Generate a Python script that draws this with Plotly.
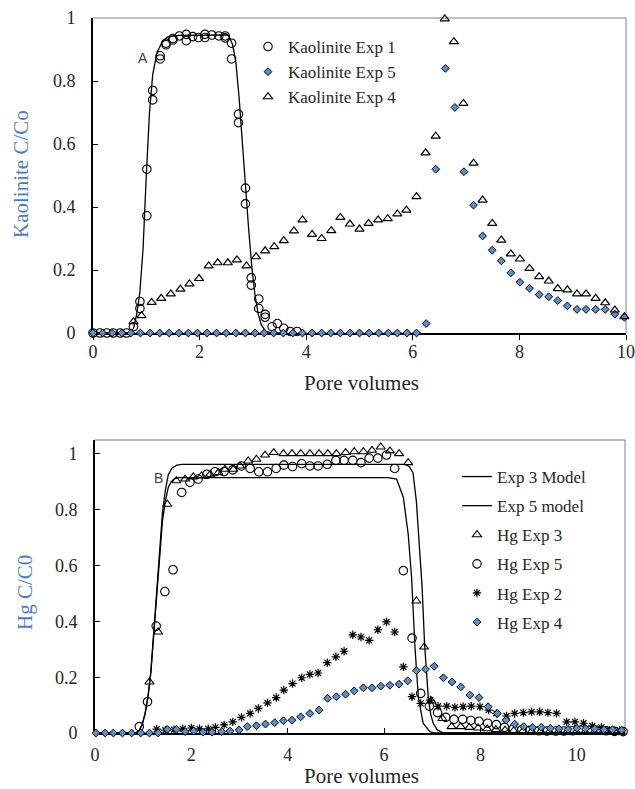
import plotly.graph_objects as go

W, H = 635, 789
SERIF = "Liberation Serif"
SANS = "Liberation Sans"
BLUE = "#5B8FCB"
TITLE_BLUE = "#4A7EBB"
TXT = "#262626"

# ---------------- Top chart: Kaolinite ----------------
kao_model_x = [0, 0.70, 0.76, 0.82, 0.88, 0.94, 1.00, 1.06, 1.12, 1.20, 1.30, 1.40, 1.60,
               2.00, 2.50, 2.55, 2.62, 2.68, 2.74, 2.80, 2.86, 2.92, 2.98, 3.04, 3.10,
               3.16, 3.24, 3.35, 3.60]
kao_model_y = [0, 0, 0.015, 0.06, 0.13, 0.27, 0.50, 0.70, 0.82, 0.89, 0.925, 0.94, 0.945,
               0.946, 0.946, 0.943, 0.915, 0.86, 0.75, 0.61, 0.46, 0.33, 0.21, 0.12, 0.06,
               0.025, 0.006, 0, 0]

kao1_x = [0.00, 0.13, 0.26, 0.38, 0.51, 0.63, 0.76, 0.88, 0.88, 1.01, 1.01, 1.12, 1.12,
          1.26, 1.26, 1.37, 1.37, 1.50, 1.50, 1.62, 1.75, 1.75, 1.87, 1.98, 2.10, 2.10,
          2.23, 2.36, 2.48, 2.48, 2.60, 2.60, 2.73, 2.73, 2.86, 2.86, 2.97, 2.97, 3.11,
          3.11, 3.23, 3.23, 3.36, 3.46, 3.58, 3.70, 3.83]
kao1_y = [0, 0, 0, 0, 0, 0, 0.02, 0.10, 0.078, 0.52, 0.372, 0.77, 0.74,
          0.88, 0.87, 0.92, 0.915, 0.935, 0.93, 0.943, 0.948, 0.928, 0.941, 0.938, 0.948, 0.938,
          0.946, 0.943, 0.943, 0.937, 0.92, 0.87, 0.695, 0.668, 0.46, 0.41, 0.175, 0.152, 0.108,
          0.078, 0.059, 0.05, 0.02, 0.03, 0.015, 0.005, 0.005]

kao5_x = [0.00, 0.18, 0.36, 0.54, 0.71, 0.89, 1.07, 1.25, 1.43, 1.61, 1.79, 1.96, 2.14,
          2.32, 2.50, 2.68, 2.86, 3.04, 3.21, 3.39, 3.57, 3.75, 3.93, 4.11, 4.29, 4.46,
          4.64, 4.82, 5.00, 5.18, 5.36, 5.54, 5.71, 5.89, 6.07, 6.25, 6.43, 6.61, 6.79,
          6.96, 7.14, 7.31, 7.49, 7.66, 7.84, 8.01, 8.19, 8.37, 8.55, 8.72, 8.90, 9.08,
          9.25, 9.43, 9.61, 9.79, 9.97]
kao5_y = [0, 0, 0, 0, 0, 0, 0, 0, 0, 0, 0, 0, 0,
          0, 0, 0, 0, 0, 0, 0, 0, 0, 0, 0, 0, 0,
          0, 0, 0, 0, 0, 0, 0, 0, 0, 0.03, 0.52, 0.84, 0.716,
          0.512, 0.406, 0.308, 0.263, 0.229, 0.191, 0.161, 0.142, 0.122, 0.115, 0.103, 0.086, 0.075,
          0.075, 0.075, 0.075, 0.06, 0.05]

kao4_x = [0.76, 0.91, 1.10, 1.28, 1.46, 1.64, 1.81, 1.99, 2.17, 2.34, 2.53, 2.70, 2.88,
          3.06, 3.23, 3.40, 3.58, 3.77, 3.93, 4.11, 4.29, 4.47, 4.64, 4.82, 5.00, 5.17,
          5.35, 5.53, 5.71, 5.88, 6.07, 6.24, 6.43, 6.60, 6.77, 6.95, 7.14, 7.31, 7.49,
          7.66, 7.84, 8.01, 8.19, 8.37, 8.55, 8.72, 8.90, 9.08, 9.25, 9.43, 9.61, 9.79, 9.97]
kao4_y = [0.036, 0.055, 0.097, 0.11, 0.124, 0.139, 0.156, 0.173, 0.213, 0.223, 0.223, 0.232, 0.213,
          0.242, 0.261, 0.274, 0.293, 0.324, 0.359, 0.313, 0.30, 0.325, 0.367, 0.346, 0.33, 0.348,
          0.359, 0.363, 0.378, 0.39, 0.433, 0.572, 0.625, 0.997, 0.925, 0.729, 0.539, 0.422, 0.348,
          0.295, 0.251, 0.235, 0.205, 0.179, 0.165, 0.141, 0.137, 0.124, 0.124, 0.11, 0.096, 0.073, 0.052]

# ---------------- Bottom chart: Hg ----------------
m3_x = [0, 0.85, 0.92, 0.98, 1.04, 1.10, 1.16, 1.22, 1.28, 1.34, 1.40, 1.46, 1.52, 1.60,
        1.70, 1.80, 6.43, 6.52, 6.60, 6.67, 6.74, 6.79, 6.84, 6.88, 6.92, 6.97, 7.02,
        7.10, 7.23, 11.0]
m3_y = [0, 0, 0.01, 0.03, 0.07, 0.13, 0.22, 0.36, 0.51, 0.66, 0.79, 0.87, 0.925, 0.95,
        0.96, 0.963, 0.963, 0.955, 0.933, 0.83, 0.65, 0.52, 0.32, 0.20, 0.12, 0.065, 0.035,
        0.012, 0, 0]

m5_x = [0, 0.85, 0.92, 0.98, 1.04, 1.10, 1.16, 1.22, 1.28, 1.34, 1.40, 1.46, 1.52, 1.58,
        1.65, 1.75, 6.08, 6.26, 6.40, 6.50, 6.57, 6.64, 6.71, 6.81, 6.95, 7.05, 11.0]
m5_y = [0, 0, 0.01, 0.03, 0.07, 0.13, 0.22, 0.36, 0.51, 0.65, 0.76, 0.83, 0.88, 0.90,
        0.912, 0.915, 0.915, 0.91, 0.844, 0.713, 0.56, 0.31, 0.13, 0.035, 0.005, 0, 0]

hg3_x = [1.13, 1.31, 1.50, 1.69, 1.87, 2.04, 2.21, 2.39, 2.56, 2.70, 2.87, 3.01, 3.18,
         3.35, 3.53, 3.71, 3.91, 4.09, 4.27, 4.46, 4.65, 4.83, 5.01, 5.20, 5.38, 5.57,
         5.75, 5.93, 6.12, 6.31, 6.50, 6.67, 6.83, 6.98, 7.21, 7.40, 7.59, 7.77, 7.95,
         8.14, 8.32, 8.51, 8.69, 8.88, 9.06, 9.25, 9.43, 9.62, 9.80, 9.99, 10.17, 10.36,
         10.54, 10.73, 10.91]
hg3_y = [0.183, 0.362, 0.82, 0.904, 0.91, 0.918, 0.921, 0.927, 0.933, 0.945, 0.945, 0.957, 0.975,
         0.981, 0.996, 1.005, 1.001, 1.001, 1.001, 1.001, 1.001, 1.001, 1.001, 1.005, 1.008, 1.008,
         1.013, 1.025, 1.011, 1.001, 0.969, 0.473, 0.308, 0.115, 0.052, 0.023, 0.023, 0.02, 0.018,
         0.015, 0.012, 0.01, 0.008, 0.007, 0.006, 0.006, 0.005, 0.005, 0.005, 0.005, 0.004, 0.004,
         0.004, 0.004, 0.004]

hg5_x = [0.92, 1.09, 1.27, 1.45, 1.62, 1.80, 1.97, 2.14, 2.32, 2.49, 2.68, 2.86, 3.04,
         3.22, 3.40, 3.58, 3.76, 3.92, 4.10, 4.29, 4.46, 4.63, 4.82, 5.00, 5.17, 5.35,
         5.52, 5.69, 5.87, 6.05, 6.22, 6.40, 6.58, 6.76, 6.94, 7.11, 7.28, 7.45, 7.63,
         7.80, 7.97, 8.15, 8.33, 8.50, 8.68, 8.86, 9.03, 9.21, 9.38, 9.56, 9.73, 9.91,
         10.08, 10.26, 10.43, 10.61, 10.78, 10.96]
hg5_y = [0.023, 0.112, 0.383, 0.507, 0.585, 0.862, 0.898, 0.91, 0.927, 0.936, 0.937, 0.943, 0.957,
         0.948, 0.936, 0.936, 0.948, 0.96, 0.955, 0.965, 0.957, 0.957, 0.963, 0.977, 0.977, 0.977,
         0.969, 0.985, 0.985, 0.996, 0.948, 0.582, 0.34, 0.142, 0.096, 0.073, 0.056, 0.049, 0.049,
         0.045, 0.042, 0.035, 0.03, 0.02, 0.015, 0.012, 0.01, 0.008, 0.007, 0.007, 0.007, 0.008,
         0.01, 0.01, 0.01, 0.008, 0.006, 0.005]

hg2_x = [1.28, 1.46, 1.64, 1.82, 2.00, 2.17, 2.35, 2.50, 2.68, 2.86, 3.04, 3.22, 3.39,
         3.58, 3.76, 3.92, 4.10, 4.29, 4.46, 4.63, 4.82, 5.00, 5.17, 5.35, 5.52, 5.69,
         5.87, 6.05, 6.22, 6.40, 6.58, 6.76, 6.96, 7.12, 7.30, 7.47, 7.64, 7.81, 7.99,
         8.17, 8.33, 8.54, 8.71, 8.89, 9.06, 9.23, 9.40, 9.58, 9.79, 9.96, 10.14, 10.32,
         10.51, 10.68, 10.89]
hg2_y = [0.014, 0.01, 0.012, 0.015, 0.018, 0.015, 0.015, 0.02, 0.029, 0.04, 0.056, 0.07, 0.088,
         0.108, 0.127, 0.154, 0.177, 0.198, 0.21, 0.215, 0.252, 0.273, 0.293, 0.352, 0.344, 0.332,
         0.37, 0.398, 0.362, 0.237, 0.13, 0.106, 0.118, 0.096, 0.096, 0.092, 0.094, 0.096, 0.094,
         0.082, 0.07, 0.061, 0.07, 0.073, 0.076, 0.076, 0.073, 0.07, 0.04, 0.04, 0.035, 0.025,
         0.02, 0.01, 0.01]

hg4_x = [0.02, 0.21, 0.38, 0.57, 0.76, 0.95, 1.13, 1.31, 1.50, 1.69, 1.87, 2.05, 2.24,
         2.43, 2.63, 2.80, 2.99, 3.16, 3.35, 3.54, 3.73, 3.91, 4.09, 4.27, 4.46, 4.65,
         4.83, 5.01, 5.20, 5.38, 5.57, 5.75, 5.93, 6.12, 6.31, 6.49, 6.67, 6.86, 7.04,
         7.23, 7.41, 7.59, 7.78, 7.97, 8.16, 8.35, 8.53, 8.71, 8.90, 9.08, 9.26, 9.45,
         9.63, 9.82, 10.00, 10.18, 10.37, 10.56, 10.74, 10.93]
hg4_y = [0, 0, 0, 0, 0, 0, 0, 0, 0.013, 0.013, 0.005, 0.007, 0.003,
         0.003, 0.005, 0.007, 0.011, 0.023, 0.026, 0.032, 0.037, 0.044, 0.046, 0.058, 0.07, 0.082,
         0.124, 0.13, 0.139, 0.151, 0.162, 0.162, 0.168, 0.171, 0.175, 0.187, 0.223, 0.229, 0.239,
         0.198, 0.183, 0.165, 0.136, 0.127, 0.094, 0.07, 0.046, 0.032, 0.023, 0.02, 0.02, 0.017,
         0.015, 0.013, 0.017, 0.015, 0.015, 0.012, 0.012, 0.01]

x_ticks_top = [0, 2, 4, 6, 8, 10]
x_ticks_bot = [0, 2, 4, 6, 8, 10]
y_ticks = [0, 0.2, 0.4, 0.6, 0.8, 1]
y_tick_text = ["0", "0.2", "0.4", "0.6", "0.8", "1"]

fig = go.Figure()


def mk(symbol, size, color="black", line_color="black", width=1):
    return dict(symbol=symbol, size=size, color=color,
                line=dict(width=width, color=line_color))


# top traces
fig.add_trace(go.Scatter(x=kao_model_x, y=kao_model_y, mode="lines",
                         line=dict(color="black", width=1.3), showlegend=False,
                         xaxis="x", yaxis="y", cliponaxis=False))
fig.add_trace(go.Scatter(x=kao1_x, y=kao1_y, mode="markers", name="Kaolinite Exp 1",
                         marker=mk("circle-open", 8.5, width=1.1), xaxis="x", yaxis="y",
                         cliponaxis=False, legend="legend"))
fig.add_trace(go.Scatter(x=kao5_x, y=kao5_y, mode="markers", name="Kaolinite Exp 5",
                         marker=mk("diamond", 6, color=BLUE), xaxis="x", yaxis="y",
                         cliponaxis=False, legend="legend"))
fig.add_trace(go.Scatter(x=kao4_x, y=kao4_y, mode="markers", name="Kaolinite Exp 4",
                         marker=mk("triangle-up-open", 8, width=1.2), xaxis="x", yaxis="y",
                         cliponaxis=False, legend="legend"))

# bottom traces (each in its own legend group so the group gap spaces the rows)
bottom = [
    (m3_x, m3_y, "Exp 3 Model", "lines", None),
    (m5_x, m5_y, "Exp 5 model", "lines", None),
    (hg3_x, hg3_y, "Hg Exp 3", "markers", mk("triangle-up-open", 8, width=1.1)),
    (hg5_x, hg5_y, "Hg Exp 5", "markers", mk("circle-open", 8.5, width=1.1)),
    (hg2_x, hg2_y, "Hg Exp 2", "markers", mk("asterisk-open", 7, width=1.2)),
    (hg4_x, hg4_y, "Hg Exp 4", "markers", mk("diamond", 6, color=BLUE)),
]
for i, (xs, ys, name, mode, marker) in enumerate(bottom):
    kw = dict(x=xs, y=ys, mode=mode, name=name, xaxis="x2", yaxis="y2",
              cliponaxis=False, legend="legend2", legendgroup=f"g{i}")
    if mode == "lines":
        kw["line"] = dict(color="black", width=1.3)
    else:
        kw["marker"] = marker
    fig.add_trace(go.Scatter(**kw))

tickfont = dict(family=SERIF, size=18, color=TXT)

axis_common = dict(showgrid=False, zeroline=False, showline=True, linecolor="black",
                   linewidth=2, tickcolor="black", ticklen=5, tickwidth=1,
                   tickfont=tickfont, layer="below traces", automargin=False)

fig.update_layout(
    width=W, height=H, margin=dict(l=0, r=0, t=0, b=0, pad=0, autoexpand=False),
    paper_bgcolor="white", plot_bgcolor="white",
    xaxis=dict(domain=[93 / W, 626 / W], anchor="y", range=[0, 10],
               tickvals=x_ticks_top, ticks="outside", ticklabelstandoff=-4, **axis_common),
    yaxis=dict(domain=[1 - 333 / H, 1 - 18 / H], anchor="x", range=[0, 1],
               tickvals=y_ticks, ticktext=y_tick_text, ticks="inside",
               ticklabelstandoff=12, **axis_common),
    xaxis2=dict(domain=[95 / W, 625 / W], anchor="y2", range=[0, 11],
                tickvals=x_ticks_bot, ticks="inside", ticklabelstandoff=4, **axis_common),
    yaxis2=dict(domain=[1 - 733 / H, 1 - 440 / H], anchor="x2", range=[0, 1.05],
                tickvals=y_ticks, ticktext=y_tick_text, ticks="inside",
                ticklabelstandoff=12, **axis_common),
    legend=dict(x=248 / W, y=1 - 29 / H, xanchor="left", yanchor="top",
                bgcolor="rgba(0,0,0,0)", font=dict(family=SERIF, size=17, color=TXT),
                itemwidth=30, tracegroupgap=0),
    legend2=dict(x=457 / W, y=1 - 459 / H, xanchor="left", yanchor="top",
                 bgcolor="rgba(0,0,0,0)", font=dict(family=SERIF, size=17, color=TXT),
                 itemwidth=30, tracegroupgap=4),
    showlegend=True,
)

# thin grey frame (top & right) for each plot area
for xr, yr in (("x domain", "y domain"), ("x2 domain", "y2 domain")):
    fig.add_shape(type="line", xref=xr, yref=yr, x0=0, x1=1, y0=1, y1=1,
                  line=dict(color="#7f7f7f", width=1), layer="below")
    fig.add_shape(type="line", xref=xr, yref=yr, x0=1, x1=1, y0=0, y1=1,
                  line=dict(color="#7f7f7f", width=1), layer="below")

# axis titles and panel labels
ann = [
    dict(text="Pore volumes", x=361 / W, y=1 - 383 / H, font=dict(family=SERIF, size=21, color=TXT)),
    dict(text="Pore volumes", x=361 / W, y=1 - 776 / H, font=dict(family=SERIF, size=21, color=TXT)),
    dict(text="Kaolinite C/Co", x=21 / W, y=1 - 174 / H, textangle=-90,
         font=dict(family=SERIF, size=21, color=TITLE_BLUE)),
    dict(text="Hg C/C0", x=25 / W, y=1 - 593 / H, textangle=-90,
         font=dict(family=SERIF, size=21, color=TITLE_BLUE)),
    dict(text="A", x=143 / W, y=1 - 58 / H, font=dict(family=SANS, size=14, color="#404040")),
    dict(text="B", x=158 / W, y=1 - 478 / H, font=dict(family=SANS, size=14, color="#404040")),
]
for a in ann:
    fig.add_annotation(xref="paper", yref="paper", showarrow=False,
                       xanchor="center", yanchor="middle", **a)

fig.write_html("out.html")
